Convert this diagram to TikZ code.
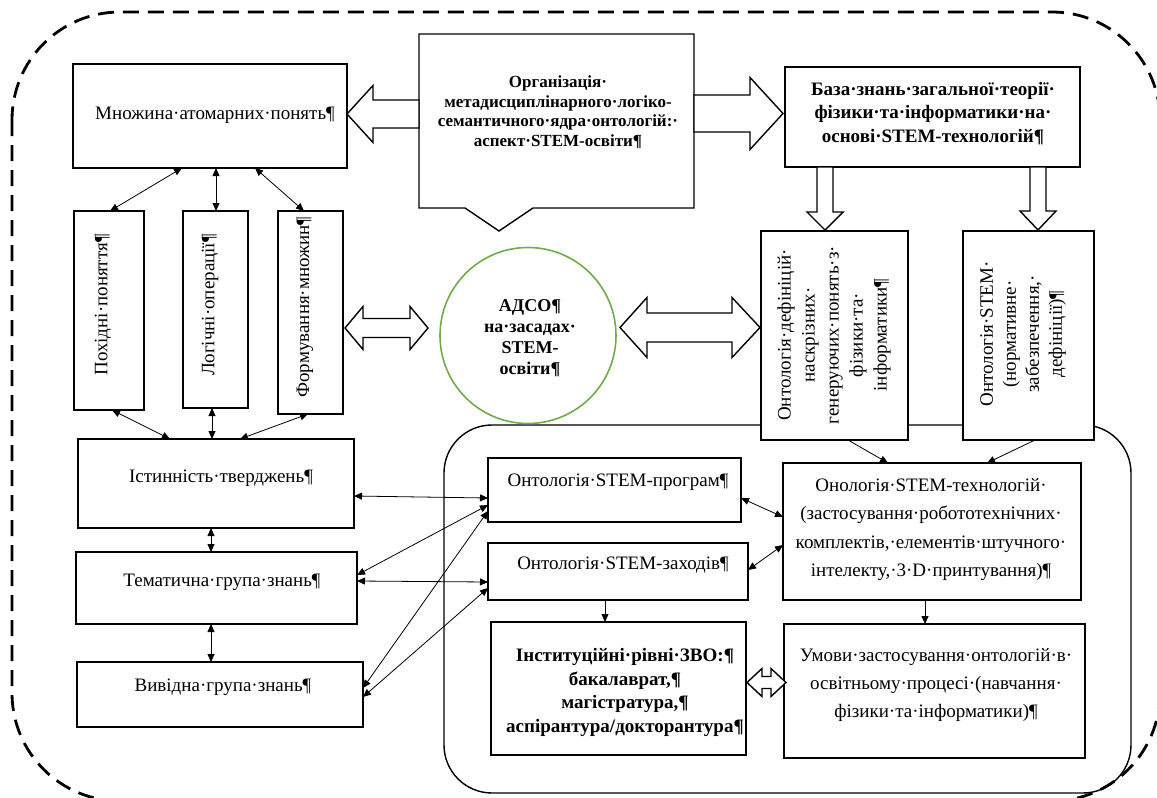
\documentclass[tikz,border=0pt]{standalone}
\usepackage{fontspec}
\setmainfont{Liberation Serif}
\usetikzlibrary{arrows.meta,calc}
\definecolor{adsogreen}{HTML}{70AD47}
\begin{document}
\begin{tikzpicture}[x=1pt,y=-1pt,
  box/.style={draw, line width=1.4pt, fill=white, inner sep=0pt, outer sep=0pt},
  t19/.style={font=\fontsize{19}{22}\selectfont, align=center, inner sep=0pt},
  b19/.style={font=\bfseries\fontsize{19}{23.5}\selectfont, align=center, inner sep=0pt},
  conn/.style={line width=0.8pt, {Triangle[length=8pt,width=7pt]}-{Triangle[length=8pt,width=7pt]}},
  conna/.style={line width=0.8pt, -{Triangle[length=8pt,width=7pt]}},
  hollow/.style={draw, line width=1.4pt, fill=white, line join=miter},
]
\useasboundingbox (0,0) rectangle (1157,798);
\begin{scope}
\clip (0,0) rectangle (1157,798);
\draw[line width=2.8pt, dash pattern=on 16pt off 9pt, rounded corners=108pt] (12,12) rectangle (1160,801);
\end{scope}

% inner rounded frame
\draw[line width=1.4pt, rounded corners=48pt] (444,425) rectangle (1131,793);

% top row
\node[box, minimum width=274pt, minimum height=104pt] (m) at (210,116) {};
\node[t19] at (215,115) {Множина·атомарних·понять¶};

\draw[line width=1.4pt, fill=white] (419,34) -- (694,34) -- (694,208) -- (533,208) -- (499,231) -- (465,208) -- (419,208) -- cycle;
\node[font=\bfseries\fontsize{17}{19.5}\selectfont, align=center, inner sep=0pt] (org) at (558,112)
  {Організація·\\метадисциплінарного·логіко-\\семантичного·ядра·онтологій:·\\аспект·STEM-освіти¶};

\node[box, minimum width=295pt, minimum height=100pt] (b) at (932.5,117) {};
\node[b19] at (933,113.5) {База·знань·загальної·теорії·\\фізики·та·інформатики·на·\\основі·STEM-технологій¶};

% hollow arrows top
\draw[hollow] (419,100) -- (373,100) -- (373,85.5) -- (347,114) -- (373,142.5) -- (373,128) -- (419,128) -- cycle;
\draw[hollow] (694,95) -- (750,95) -- (750,77.5) -- (783,113.5) -- (750,149.5) -- (750,132) -- (694,132) -- cycle;
\draw[hollow] (817,167) -- (817,212) -- (807,212) -- (825,230) -- (843,212) -- (833,212) -- (833,167) -- cycle;
\draw[hollow] (1030,167) -- (1030,211) -- (1020,211) -- (1038,230) -- (1056,211) -- (1046,211) -- (1046,167) -- cycle;

% vertical boxes left
\node[box, minimum width=70pt, minimum height=199pt] (p1) at (109,310.5) {};
\node[t19, rotate=90] at (103,305) {Похідні·поняття¶};
\node[box, minimum width=65pt, minimum height=197pt] (p2) at (215.5,309.5) {};
\node[t19, rotate=90] at (210,305) {Логічні·операції¶};
\node[box, minimum width=65pt, minimum height=203pt] (p3) at (310.5,312.5) {};
\node[t19, rotate=90] at (305,307) {Формування·множин¶};

% circle
\node[circle, draw=adsogreen, line width=1.6pt, fill=white, minimum size=176pt, inner sep=0pt] (adso) at (528,335.5) {};
\node[font=\bfseries\fontsize{18}{21}\selectfont, align=center, inner sep=0pt] at (530,338) {АДСО¶\\на·засадах·\\STEM-\\освіти¶};

% double hollow arrows middle
\draw[hollow] (345,328) -- (363,306.5) -- (363,318.5) -- (410,318.5) -- (410,306.5) -- (428,328) -- (410,349.5) -- (410,337.5) -- (363,337.5) -- (363,349.5) -- cycle;
\draw[hollow] (620,327.5) -- (647,297.5) -- (647,313) -- (732,313) -- (732,297.5) -- (760,327.5) -- (732,357.5) -- (732,342) -- (647,342) -- (647,357.5) -- cycle;

% vertical boxes right
\node[box, minimum width=147pt, minimum height=209pt] (od) at (834.5,335.5) {};
\node[font=\fontsize{19}{24}\selectfont, align=center, inner sep=0pt, rotate=90] at (834,335)
  {Онтологія·дефініцій·\\наскрізних·\\генеруючих·понять·з·\\фізики·та·\\інформатики¶};
\node[box, minimum width=131pt, minimum height=209pt] (os) at (1028.5,335.5) {};
\node[font=\fontsize{19}{23}\selectfont, align=center, inner sep=0pt, rotate=90] at (1023,334)
  {Онтологія·STEM·\\(нормативне·\\забезпечення,·\\дефініції)¶};

% left column
\node[box, minimum width=276pt, minimum height=89pt] (ist) at (216,483.5) {};
\node[t19] at (221,478) {Істинність·тверджень¶};
\node[box, minimum width=281pt, minimum height=72pt] (tem) at (216.5,588) {};
\node[t19] at (222,582) {Тематична·група·знань¶};
\node[box, minimum width=286pt, minimum height=65pt] (viv) at (220,694.5) {};
\node[t19] at (223,687) {Вивідна·група·знань¶};

% inner boxes
\node[box, minimum width=253pt, minimum height=64pt] (sp) at (614.5,490) {};
\node[t19] at (618,482) {Онтологія·STEM-програм¶};
\node[box, minimum width=260pt, minimum height=57pt] (sz) at (618,571.5) {};
\node[t19] at (623,565) {Онтологія·STEM-заходів¶};
\node[box, minimum width=298pt, minimum height=137pt] (st) at (932,531.5) {};
\node[font=\fontsize{19}{28.5}\selectfont, align=center, inner sep=0pt] at (931,529.5)
  {Онологія·STEM-технологій·\\(застосування·робототехнічних·\\комплектів,·елементів·штучного·\\інтелекту,·3·D·принтування)¶};
\node[box, minimum width=255pt, minimum height=133pt] (inst) at (618.5,688.5) {};
\node[font=\bfseries\fontsize{19}{23.7}\selectfont, align=center, inner sep=0pt] at (625,692.5)
  {Інституційні·рівні·ЗВО:¶\\бакалаврат,¶\\магістратура,¶\\аспірантура/докторантура¶};
\node[box, minimum width=301pt, minimum height=134pt] (um) at (934.5,691) {};
\node[font=\fontsize{19}{28}\selectfont, align=center, inner sep=0pt] at (936,685)
  {Умови·застосування·онтологій·в·\\освітньому·процесі·(навчання·\\фізики·та·інформатики)¶};

\draw[hollow] (747,682.5) -- (762,668.5) -- (762,676.5) -- (771,676.5) -- (771,668.5) -- (786,682.5) -- (771,696.5) -- (771,688.5) -- (762,688.5) -- (762,696.5) -- cycle;

% connectors
\draw[conn] (m.south -| 182,0) -- (p1.north -| 110,0);
\draw[conn] (m.south -| 216,0) -- (p2.north -| 216,0);
\draw[conn] (m.south -| 255,0) -- (p3.north -| 304,0);
\draw[conn] (p1.south -| 112,0) -- (ist.north -| 170,0);
\draw[conn] (p2.south -| 212,0) -- (ist.north -| 212,0);
\draw[conn] (p3.south -| 308,0) -- (ist.north -| 240,0);
\draw[conn] (ist.south -| 211,0) -- (tem.north -| 211,0);
\draw[conn] (tem.south -| 211,0) -- (viv.north -| 211,0);
\draw[conn] (ist.east |- 0,496) -- (sp.west |- 0,498);
\draw[conn] (tem.east |- 0,575) -- (sp.west |- 0,505);
\draw[conn] (tem.east |- 0,581) -- (sz.west |- 0,582);
\draw[conn] (viv.east |- 0,688) -- (sp.west |- 0,511);
\draw[conn] (viv.east |- 0,697) -- (sz.west |- 0,588);
\draw[conna] (od.south -| 848,0) -- (st.north -| 888,0);
\draw[conna] (os.south -| 1035,0) -- (st.north -| 987,0);
\draw[conn] (sp.east |- 0,498) -- (st.west |- 0,517);
\draw[conn] (sz.east |- 0,570) -- (st.west |- 0,545);
\draw[conna] (sz.south -| 605,0) -- (inst.north -| 605,0);
\draw[conna] (st.south -| 925,0) -- (um.north -| 925,0);
\end{tikzpicture}
\end{document}
